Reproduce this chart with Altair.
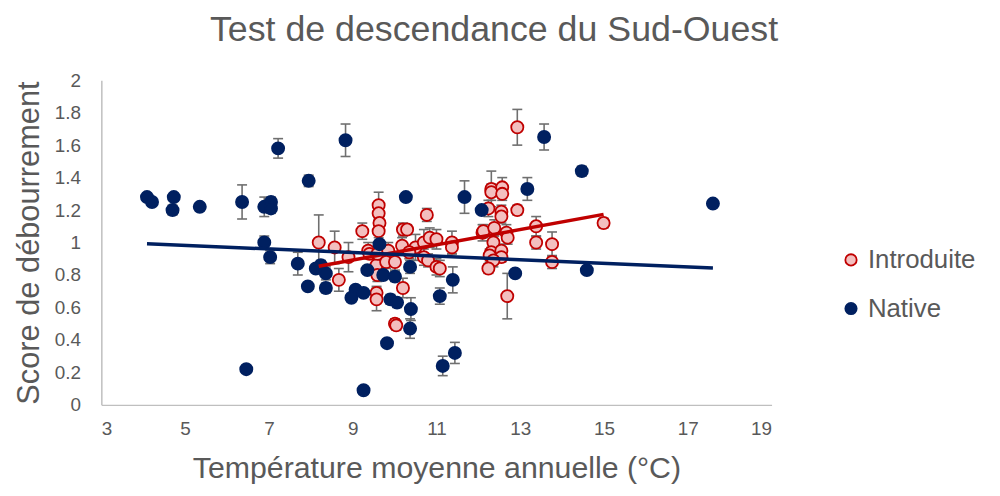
import altair as alt
import pandas as pd

# ---- data ----
nat_x = [4.09, 4.21, 4.73, 4.70, 5.35, 6.36, 6.89, 7.05, 7.05, 7.22, 7.95, 8.83, 13.57, 10.27,
         11.67, 13.17, 12.08, 14.47, 17.60, 14.59, 12.88, 6.89, 7.03, 7.69, 7.93, 8.12, 8.24,
         8.36, 8.36, 6.46, 9.64, 9.35, 9.73, 10.01, 10.37, 11.39, 11.08, 9.07, 8.97, 9.26,
         9.90, 10.06, 10.39, 10.37, 9.82, 11.15, 11.44, 9.26]
nat_y = [1.28, 1.25, 1.28, 1.20, 1.22, 1.25, 1.22, 1.25, 1.21, 1.58, 1.38, 1.63, 1.65, 1.28,
         1.28, 1.33, 1.20, 1.44, 1.24, 0.83, 0.81, 1.00, 0.91, 0.87, 0.73, 0.84, 0.86,
         0.81, 0.72, 0.22, 0.99, 0.83, 0.80, 0.79, 0.85, 0.77, 0.67, 0.71, 0.66, 0.69,
         0.65, 0.63, 0.59, 0.47, 0.38, 0.24, 0.32, 0.09]
nat_err = [0.0, 0.0, 0.02, 0.03, 0.0, 0.105, 0.06, 0.03, 0.03, 0.06, 0.035, 0.10, 0.08, 0.02,
           0.10, 0.07, 0.0, 0.03, 0.02, 0.0, 0.0, 0.04, 0.04, 0.07, 0.0, 0.02, 0.03,
           0.04, 0.03, 0.0, 0.0, 0.0, 0.02, 0.03, 0.04, 0.08, 0.05, 0.0, 0.0, 0.0,
           0.03, 0.03, 0.07, 0.06, 0.0, 0.06, 0.065, 0.02]

int_x = [8.19, 8.57, 8.67, 8.90, 9.23, 9.37, 9.40, 9.57, 9.59, 9.57, 9.57, 9.62, 9.62, 9.64,
         9.62, 9.59, 9.85, 9.80, 10.01, 10.01, 10.04, 10.20, 10.30, 10.18, 10.20, 10.50,
         10.35, 10.77, 10.70, 10.84, 11.00, 10.70, 10.80, 11.00, 11.08, 11.37, 11.37, 12.10,
         12.12, 12.24, 12.31, 12.31, 12.57, 12.57, 12.55, 12.55, 12.93, 12.38, 12.67, 12.70,
         12.36, 12.31, 12.55, 12.27, 12.55, 12.36, 12.24, 12.69, 12.93, 13.38, 13.38, 13.76,
         13.76, 14.99]
int_y = [1.00, 0.97, 0.77, 0.91, 1.07, 0.95, 0.93, 0.86, 0.80, 0.69, 0.65, 1.23, 1.18, 1.12,
         1.07, 0.93, 0.95, 0.88, 0.88, 0.50, 0.49, 1.08, 1.08, 0.98, 0.72, 0.97,
         0.94, 1.17, 1.00, 1.03, 1.02, 0.91, 0.89, 0.85, 0.84, 1.00, 0.97, 1.06,
         1.07, 1.21, 1.33, 1.31, 1.34, 1.30, 1.19, 1.16, 1.20, 1.09, 1.06, 1.03,
         1.00, 0.94, 0.95, 0.92, 0.91, 0.89, 0.84, 0.67, 1.71, 1.10, 1.00, 0.99,
         0.88, 1.12]
int_err = [0.17, 0.10, 0.07, 0.09, 0.05, 0.05, 0.03, 0.05, 0.04, 0.04, 0.07, 0.08, 0.04, 0.04,
           0.04, 0.03, 0.05, 0.04, 0.05, 0.03, 0.03, 0.04, 0.03, 0.05, 0.06, 0.08,
           0.04, 0.04, 0.08, 0.06, 0.06, 0.05, 0.04, 0.05, 0.05, 0.07, 0.04, 0.05,
           0.04, 0.05, 0.11, 0.05, 0.06, 0.04, 0.04, 0.04, 0.03, 0.05, 0.05, 0.04,
           0.04, 0.03, 0.04, 0.04, 0.03, 0.04, 0.03, 0.14, 0.11, 0.06, 0.04, 0.075,
           0.04, 0.03]

series_names = ["Introduite", "Native"]
fill_colors = ["#F3BFBF", "#002060"]
stroke_colors = ["#C00000", "#002060"]
x_ticks = [3, 5, 7, 9, 11, 13, 15, 17, 19]
y_ticks = [0, 0.2, 0.4, 0.6, 0.8, 1, 1.2, 1.4, 1.6, 1.8, 2]

rows = []
for sx, sy, se, name in [(int_x, int_y, int_err, "Introduite"), (nat_x, nat_y, nat_err, "Native")]:
    for a, b, e in zip(sx, sy, se):
        rows.append({"series": name, "x": a, "y": b, "err": e, "lo": b - e, "hi": b + e})
df = pd.DataFrame(rows)

GREY = "#595959"
FONT = "Liberation Sans"

xscale = alt.Scale(domain=[3, 19], nice=False, zero=False)
yscale = alt.Scale(domain=[0, 2], nice=False)
xaxis = alt.Axis(values=x_ticks, title="Température moyenne annuelle (°C)",
                 grid=False, ticks=False, domainColor="#BFBFBF", domainWidth=1.5,
                 labelFontSize=19, labelColor=GREY, labelPadding=15,
                 labelOverlap=False,
                 titleFontSize=30.5, titleColor=GREY, titleFontWeight="normal",
                 titlePadding=15)
yaxis = alt.Axis(values=y_ticks, format="~g", title="Score de débourrement",
                 grid=False, ticks=False, domainColor="#BFBFBF", domainWidth=1.5,
                 labelFontSize=19, labelColor=GREY, labelPadding=21,
                 labelOverlap=False,
                 titleFontSize=31, titleColor=GREY, titleFontWeight="normal",
                 titlePadding=9)

def X(field):
    return alt.X(field, scale=xscale, axis=xaxis)

def Y(field):
    return alt.Y(field, scale=yscale, axis=yaxis)

base = alt.Chart(df)
with_err = base.transform_filter("datum.err > 0")

err_rule = with_err.mark_rule(color="#6F6F6F", strokeWidth=1.6).encode(
    x=X("x:Q"), y=Y("lo:Q"), y2="hi:Q")
caps = with_err.transform_fold(["lo", "hi"], as_=["k", "v"]).mark_rule(
    color="#6F6F6F", strokeWidth=1.6, xOffset=-5, x2Offset=5).encode(
    x=X("x:Q"), x2="x:Q", y=Y("v:Q"))

points = base.mark_circle(size=150, opacity=1, strokeWidth=1.8).encode(
    x=X("x:Q"), y=Y("y:Q"),
    fill=alt.Fill("series:N", title=None,
                  scale=alt.Scale(domain=series_names, range=fill_colors)),
    stroke=alt.Stroke("series:N", title=None,
                      scale=alt.Scale(domain=series_names, range=stroke_colors)),
    order=alt.Order("series:N", sort="ascending"),
)

reg_int = base.transform_filter("datum.series == 'Introduite'").transform_regression(
    "x", "y").mark_line(color="#C00000", strokeWidth=3.5).encode(x=X("x:Q"), y=Y("y:Q"))
reg_nat = base.transform_filter("datum.series == 'Native'").transform_regression(
    "x", "y").mark_line(color="#002060", strokeWidth=3.5).encode(x=X("x:Q"), y=Y("y:Q"))

chart = alt.layer(err_rule, caps, points, reg_int, reg_nat).properties(
    width=675, height=327,
    autosize=alt.AutoSizeParams(type="none"),
    padding={"left": 94, "top": 71, "right": 222, "bottom": 80},
    title=alt.TitleParams("Test de descendance du Sud-Ouest", fontSize=36, color=GREY,
                          font=FONT, fontWeight="normal", anchor="middle", dx=58,
                          offset=22),
).configure(font=FONT).configure_view(strokeWidth=0, stroke="transparent").configure_legend(
    orient="none", legendX=742, legendY=168, labelFontSize=26, labelColor=GREY,
    labelFont=FONT, symbolType="circle", symbolSize=130, symbolStrokeWidth=1.8,
    rowPadding=23, labelOffset=4, padding=0)

chart.save("out.html", embed_options={"renderer": "svg", "actions": False})
